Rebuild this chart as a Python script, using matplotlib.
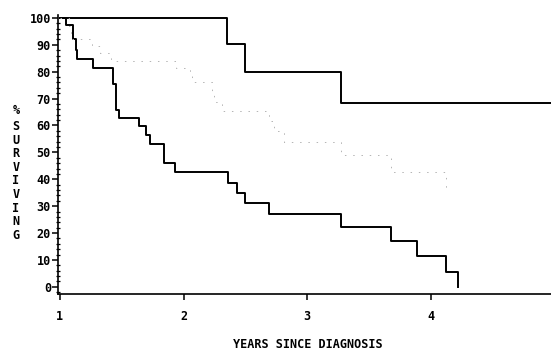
import numpy as np
import matplotlib
matplotlib.use("Agg")
import matplotlib.pyplot as plt
import matplotlib.ticker as ticker

# survival curves (years since diagnosis, % surviving)
top_years = [1.0, 2.35, 2.50, 3.27, 4.97]
top_surv = [100, 90.3, 80, 68.4, 68.4]

low_years = [1.0, 1.05, 1.11, 1.127, 1.14, 1.27, 1.426, 1.45, 1.477, 1.64, 1.70,
             1.73, 1.84, 1.93, 2.36, 2.43, 2.50, 2.69, 3.27, 3.675, 3.89, 4.12, 4.22]
low_surv = [100, 97.4, 92, 88, 84.8, 81.5, 75.4, 65.8, 62.9, 59.7, 56.5,
            53, 46, 42.7, 38.8, 34.8, 31, 27.1, 22.4, 17, 11.3, 5.6, 0]

mid_years = [1.0, 1.075, 1.089, 1.256, 1.324, 1.41, 1.94, 2.05, 2.07, 2.23, 2.245,
             2.31, 2.69, 2.73, 2.81, 3.27, 3.68, 4.12]
mid_surv = [100, 97, 92, 89.5, 87, 84, 81.5, 78.4, 76, 72.3, 68.9,
            65.4, 61.8, 58.1, 54, 49, 42.6, 36]

x_ticks = [1, 2, 3, 4]
y_ticks = [0, 10, 20, 30, 40, 50, 60, 70, 80, 90, 100]

FONT = "DejaVu Sans Mono"

fig = plt.figure(figsize=(5.51, 3.49), dpi=100)
ax = fig.add_axes([0.105, 0.158, 0.895, 0.8])

ax.step(top_years, top_surv, where='post', color='black', lw=1.4)
ax.step(low_years, low_surv, where='post', color='black', lw=1.4)
ax.step(mid_years, mid_surv, where='post', color='#b4b4b4', lw=0.7,
        linestyle=(0, (1.5, 7)))

ax.set_xlim(0.984, 4.97)
ax.set_ylim(-2.6, 101.2)

ax.spines['top'].set_visible(False)
ax.spines['right'].set_visible(False)
ax.spines['left'].set_linewidth(1.2)
ax.spines['bottom'].set_linewidth(1.2)

ax.set_xticks(x_ticks)
ax.set_xticklabels([str(t) for t in x_ticks], fontfamily=FONT,
                   fontweight='bold', fontsize=8.5)
ax.set_yticks(y_ticks)
ax.set_yticklabels([str(t) for t in y_ticks], fontfamily=FONT,
                   fontweight='bold', fontsize=8.5)
ax.yaxis.set_minor_locator(ticker.MultipleLocator(2))

ax.tick_params(axis='x', direction='out', length=4, width=1.1, pad=7.5)
ax.tick_params(axis='y', which='major', direction='out', length=4, width=1.1, pad=1)
ax.tick_params(axis='y', which='minor', direction='inout', length=3, width=0.9)

fig.text(308 / 551, 1 - 344 / 349, "YEARS SINCE DIAGNOSIS", fontfamily=FONT,
         fontweight='bold', fontsize=8.5, ha='center', va='center')
fig.text(16 / 551, 1 - 111 / 349, "%", fontfamily=FONT, fontweight='bold',
         fontsize=8.5, ha='center', va='center')
fig.text(16 / 551, 1 - 181 / 349, "\n".join("SURVIVING"), fontfamily=FONT,
         fontweight='bold', fontsize=8.5, ha='center', va='center',
         linespacing=1.06)

fig.savefig("out.png", dpi=100)
